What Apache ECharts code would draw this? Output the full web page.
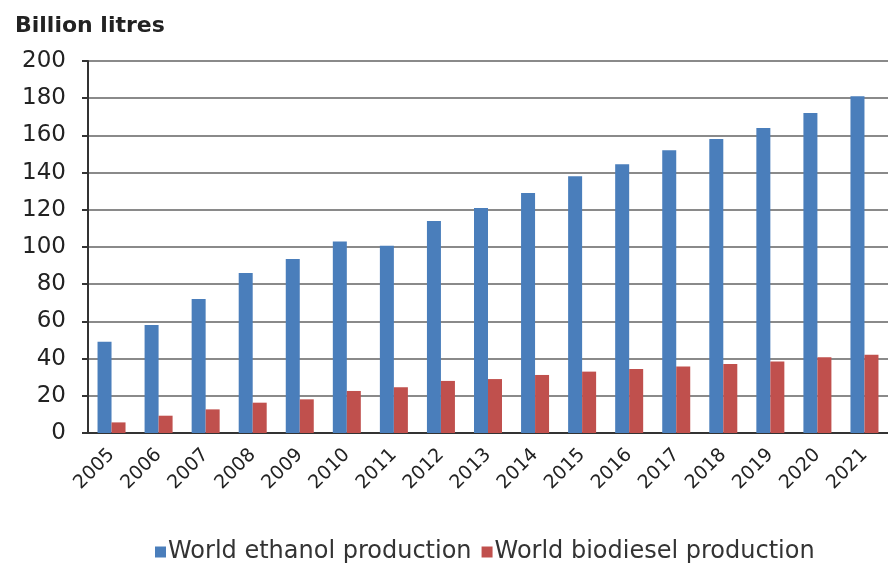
<!DOCTYPE html>
<html><head><meta charset="utf-8">
<script src="https://cdn.jsdelivr.net/npm/echarts@6/dist/echarts.min.js"></script>
<style>html,body{margin:0;padding:0;background:#fff}#c{width:888px;height:569px}</style>
</head><body><div id="c"></div>
<script>
var years = ['2005','2006','2007','2008','2009','2010','2011','2012','2013','2014','2015','2016','2017','2018','2019','2020','2021'];
var ethanol = [49, 58, 72, 86, 93.5, 103, 100.7, 114, 121, 129, 138, 144.5, 152, 158, 164, 172, 181];
var biodiesel = [5.7, 9.3, 12.7, 16.3, 18.1, 22.6, 24.6, 28, 29, 31.2, 33, 34.4, 35.7, 37.1, 38.5, 40.7, 42.1];
var yTicks = [0, 20, 40, 60, 80, 100, 120, 140, 160, 180, 200];
var FONT = 'DejaVu Sans, Verdana, sans-serif';

var chart = echarts.init(document.getElementById('c'));
chart.setOption({
  animation: false,
  textStyle: {fontFamily: FONT},
  title: {text: 'Billion litres', left: 10, top: 10,
    textStyle: {fontSize: 22, fontWeight: 'bold', color: '#222', fontFamily: FONT}},
  legend: {bottom: 0, left: 150, itemWidth: 11, itemHeight: 11, itemGap: 10, icon: 'rect',
    textStyle: {fontSize: 24, color: '#333', padding: [0, 0, 0, -3], fontFamily: FONT},
    data: ['World ethanol production', 'World biodiesel production']},
  grid: {left: 88, top: 61, width: 812, height: 372, containLabel: false},
  xAxis: {type: 'category', data: years,
    axisLine: {lineStyle: {color: '#333', width: 2}},
    axisTick: {show: false},
    axisLabel: {rotate: 45, fontSize: 19, color: '#222', margin: 19, fontFamily: FONT}},
  yAxis: {type: 'value', min: 0, max: 200, interval: 20,
    axisLine: {show: true, lineStyle: {color: '#333', width: 2}},
    axisTick: {show: true, inside: false, length: 6, lineStyle: {color: '#333', width: 2}},
    axisLabel: {fontSize: 23, color: '#222', margin: 22, fontFamily: FONT,
      formatter: function (v) { return yTicks.indexOf(v) >= 0 ? String(v) : ''; }},
    splitLine: {lineStyle: {color: '#8a8a8a', width: 2}}},
  series: [
    {name: 'World ethanol production', type: 'bar', data: ethanol, barWidth: 14, barGap: '0%',
      itemStyle: {color: '#4a7ebb'}},
    {name: 'World biodiesel production', type: 'bar', data: biodiesel, barWidth: 14,
      itemStyle: {color: '#c0504d'}}
  ]
});
</script></body></html>
